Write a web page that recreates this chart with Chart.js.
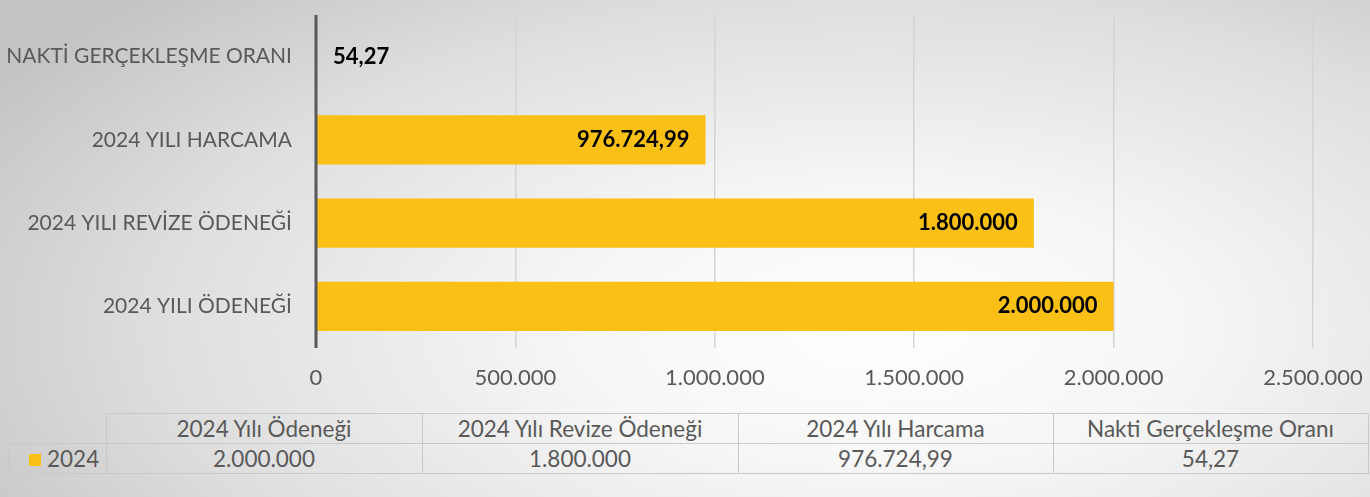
<!DOCTYPE html>
<html>
<head>
<meta charset="utf-8">
<script src="https://cdn.jsdelivr.net/npm/chart.js@4"></script>
<style>
  html, body { margin: 0; padding: 0; }
  body {
    width: 1370px; height: 497px; overflow: hidden; position: relative;
    background: radial-gradient(ellipse 75% 95% at 64% 66%, #ffffff 0%, #f6f6f6 30%, #dedede 70%, #c4c4c4 100%);
    font-family: Lato, "Open Sans", sans-serif;
  }
  #wrap { position: absolute; left: 0; top: 0; width: 1370px; height: 400px; }
  table#veri {
    position: absolute; left: 8px; top: 413px; width: 1355px;
    border-collapse: collapse; color: #595959; font-size: 22.5px; table-layout: fixed;
  }
  #veri td { border: 1.5px solid #c9c9c9; height: 29px; padding: 0; text-align: center; white-space: nowrap; }
  #veri td.bos { border-top: none; border-left: none; }
  #veri td.seri { text-align: left; padding-left: 20px; }
  .kare { display: inline-block; width: 12px; height: 12px; background: #FBC015; margin-right: 6px; vertical-align: 1px; }
</style>
</head>
<body>
<div id="wrap"><canvas id="grafik" width="1370" height="400"></canvas></div>
<table id="veri"></table>
<script>
// kategoriler (tablo sirasi) - grafikte ters cizilir
var kategoriler = ["2024 Yılı Ödeneği", "2024 Yılı Revize Ödeneği", "2024 Yılı Harcama", "Nakti Gerçekleşme Oranı"];
var eksenEtiketleri = ["2024 YILI ÖDENEĞİ", "2024 YILI REVİZE ÖDENEĞİ", "2024 YILI HARCAMA", "NAKTİ GERÇEKLEŞME ORANI"];
var seriAdi = "2024";
var degerler = [2000000, 1800000, 976724.99, 54.27];
var xMax = 2500000;
var xAdim = 500000;

function trSayi(v) {
  return v.toLocaleString("tr-TR", { maximumFractionDigits: 2 });
}

// tablo
var tablo = document.getElementById("veri");
var genislik = [97, 315, 315, 314, 314];
var h = "<tr><td class='bos' style='width:" + genislik[0] + "px'></td>";
kategoriler.forEach(function(k, i) { h += "<td style='width:" + genislik[i + 1] + "px'>" + k + "</td>"; });
h += "</tr><tr><td class='seri'><span class='kare'></span>" + seriAdi + "</td>";
degerler.forEach(function(v) { h += "<td>" + trSayi(v) + "</td>"; });
h += "</tr>";
tablo.innerHTML = h;

// bar ustu etiketler + dikey eksen cizgisi (barlarin ustunde)
var etiketEklentisi = {
  id: "etiketler",
  afterDatasetsDraw: function(chart) {
    var ctx = chart.ctx;
    var a = chart.chartArea;
    ctx.save();
    ctx.strokeStyle = "#595959";
    ctx.lineWidth = 3;
    ctx.beginPath();
    ctx.moveTo(a.left, a.top);
    ctx.lineTo(a.left, a.bottom);
    ctx.stroke();

    var meta = chart.getDatasetMeta(0);
    ctx.font = "bold 22px Lato, sans-serif";
    ctx.fillStyle = "#000";
    ctx.textBaseline = "middle";
    meta.data.forEach(function(bar, i) {
      var txt = trSayi(degerler[i]);
      var w = ctx.measureText(txt).width;
      if (bar.x - bar.base > w + 32) {
        ctx.textAlign = "right";
        ctx.fillText(txt, bar.x - 16, bar.y);
      } else {
        ctx.textAlign = "left";
        ctx.fillText(txt, bar.x + 17, bar.y);
      }
    });
    ctx.restore();
  }
};

new Chart(document.getElementById("grafik"), {
  type: "bar",
  data: {
    labels: eksenEtiketleri,
    datasets: [{
      label: seriAdi,
      data: degerler,
      backgroundColor: "#FBC015",
      borderWidth: 0,
      barPercentage: 0.59,
      categoryPercentage: 1
    }]
  },
  options: {
    indexAxis: "y",
    responsive: false,
    animation: false,
    layout: { padding: { top: 15, right: 57, left: 0, bottom: 0 } },
    plugins: { legend: { display: false }, tooltip: { enabled: false } },
    scales: {
      x: {
        min: 0, max: xMax,
        ticks: { stepSize: xAdim, color: "#595959", font: { family: "Lato", size: 22 }, padding: 17,
                 callback: function(v) { return trSayi(v); } },
        grid: { color: "#d4d4d4", lineWidth: 1.5, drawTicks: false },
        border: { display: false },
        afterFit: function(s) { s.height = 52; s.paddingLeft = 0; s.paddingRight = 0; }
      },
      y: {
        reverse: true,
        ticks: { color: "#595959", font: { family: "Lato", size: 21 }, padding: 24 },
        grid: { display: false, drawTicks: false },
        border: { display: false },
        afterFit: function(s) { s.width = 316; s.paddingTop = 0; s.paddingBottom = 0; }
      }
    }
  },
  plugins: [etiketEklentisi]
});
</script>
</body>
</html>
